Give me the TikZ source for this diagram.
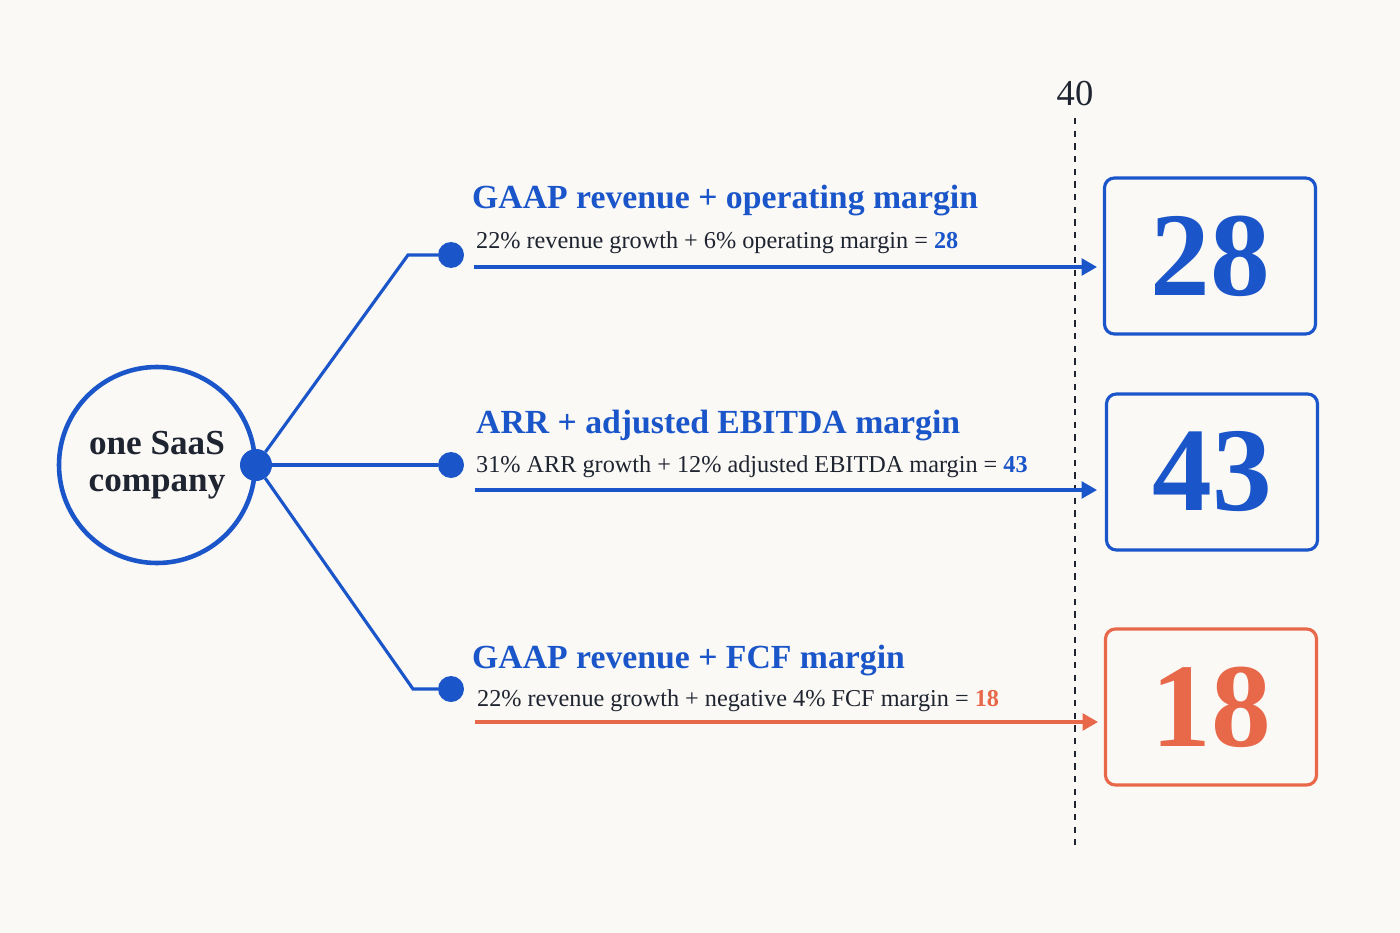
\documentclass[tikz,border=0pt]{standalone}
\usepackage{fontspec}
\setmainfont{Liberation Serif}
\usepackage{xcolor}
\usepackage{tikz}
\usetikzlibrary{arrows.meta}
\definecolor{bg}{HTML}{FBF9F5}
\definecolor{sblue}{HTML}{1A56C9}
\definecolor{sorange}{HTML}{E8684A}
\definecolor{ink}{HTML}{1E2430}
\tikzset{
  title/.style={anchor=west,inner sep=0pt,text=sblue,font=\fontsize{48}{52}\selectfont\bfseries},
  sub/.style={anchor=west,inner sep=0pt,text=ink,font=\fontsize{34.5}{38}\selectfont},
  score/.style={draw,line width=4.5pt,rounded corners=14pt,minimum width=211*0.05cm,minimum height=156*0.05cm,font=\fontsize{170}{175}\selectfont\bfseries},
  dot/.style={circle,fill=sblue,inner sep=0pt,minimum size=26*0.05cm},
  link/.style={sblue,line width=4.5pt},
  flow/.style={line width=4.5pt,-{Triangle[length=22pt,width=24pt]}}
}
\begin{document}
\begin{tikzpicture}[x=0.05cm,y=-0.05cm]
\fill[bg] (0,0) rectangle (1400,933);
\useasboundingbox (0,0) rectangle (1400,933);

    % threshold line
    \draw[ink,line width=1.8pt,dash pattern=on 9pt off 9pt] (1075,118) coordinate (t1) -- (1075,845) coordinate (t2);
    \node[text=ink,font=\fontsize{52}{54}\selectfont] (forty) at (1075,94) {40};

    % company
    \node[circle,draw=sblue,line width=6.5pt,minimum size=196*0.05cm,align=center,text=ink,
          font=\fontsize{50}{52}\selectfont\bfseries] (co) at (157,465) {one SaaS\\company};
    \node[dot,minimum size=32*0.05cm] (hub) at (256,465) {};

    \node[dot] (d1) at (451,255) {};
    \node[dot] (d2) at (451,465) {};
    \node[dot] (d3) at (451,689) {};
    \coordinate (k1) at (408,255);
    \coordinate (k3) at (413,689);
    \draw[link] (hub) -- (k1) -- (d1);
    \draw[link] (hub) -- (d2);
    \draw[link] (hub) -- (k3) -- (d3);

    % rules
    \node[title] (h1) at (472,201) {GAAP revenue + operating margin};
    \node[sub] (s1) at (476,243) {22\% revenue growth + 6\% operating margin = \textcolor{sblue}{\bfseries 28}};
    \node[title] (h2) at (476,426) {ARR + adjusted EBITDA margin};
    \node[sub] (s2) at (476,467) {31\% ARR growth + 12\% adjusted EBITDA margin = \textcolor{sblue}{\bfseries 43}};
    \node[title] (h3) at (472,661) {GAAP revenue + FCF margin};
    \node[sub] (s3) at (477,701) {22\% revenue growth + negative 4\% FCF margin = \textcolor{sorange}{\bfseries 18}};

    % scores
    \node[score,draw=sblue,text=sblue] (b1) at (1210,256) {28};
    \node[score,draw=sblue,text=sblue] (b2) at (1212,472) {43};
    \node[score,draw=sorange,text=sorange] (b3) at (1211,707) {18};

    \coordinate (a1) at (474,267);
    \coordinate (a2) at (475,490);
    \coordinate (a3) at (475,722);
    \draw[flow,sblue] (a1) -- (1097,267);
    \draw[flow,sblue] (a2) -- (1097,490);
    \draw[flow,sorange] (a3) -- (1098,722);
\end{tikzpicture}
\end{document}
